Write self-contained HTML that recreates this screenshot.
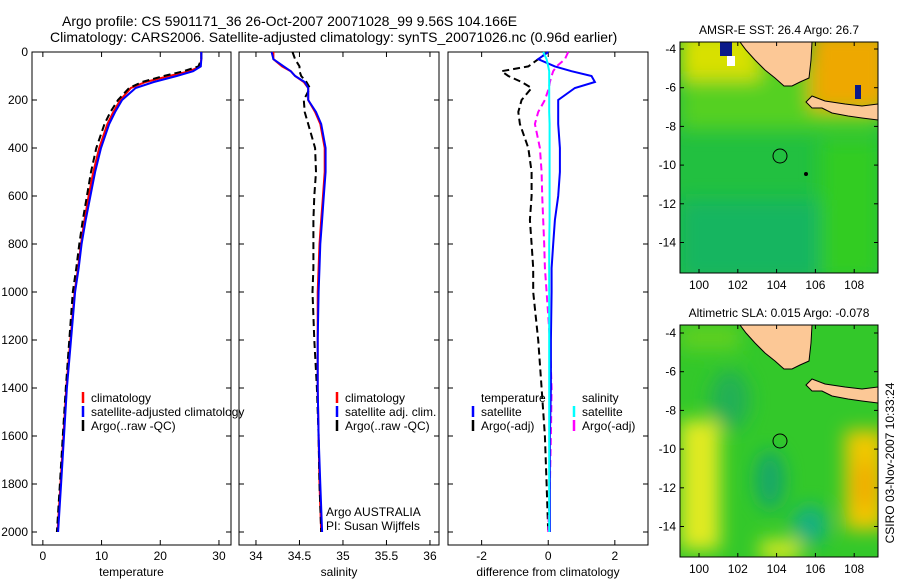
<!DOCTYPE html>
<html><head><meta charset="utf-8"><style>
body{margin:0;background:#fff;width:900px;height:580px;overflow:hidden}
svg text{font-family:"Liberation Sans",sans-serif;fill:#000}
</style></head><body>
<svg id="fig" width="900" height="580" viewBox="0 0 900 580" xmlns="http://www.w3.org/2000/svg">
<defs>
<filter id="blur" x="-50%" y="-50%" width="200%" height="200%"><feGaussianBlur stdDeviation="9"/></filter>
<clipPath id="clipTop"><rect x="680" y="42" width="198" height="231"/></clipPath>
<clipPath id="clipBot"><rect x="680" y="325" width="198" height="232"/></clipPath>
</defs>
<text x="62" y="26" font-size="14">Argo profile: CS 5901171_36 26-Oct-2007 20071028_99 9.56S 104.166E</text>
<text x="50" y="42" font-size="14">Climatology: CARS2006. Satellite-adjusted climatology: synTS_20071026.nc (0.96d earlier)</text>

<g clip-path="url(#clipTop)">
<rect x="680" y="42" width="198" height="231" fill="#22c040"/>
<g filter="url(#blur)">
<rect x="680" y="60" width="200" height="70" fill="#55d020"/>
<rect x="680" y="30" width="80" height="50" fill="#d8e000"/>
<rect x="810" y="30" width="80" height="80" fill="#eea800"/>
<rect x="680" y="200" width="200" height="80" fill="#15b560"/>
<rect x="820" y="140" width="60" height="140" fill="#30cc20"/>
</g>
<rect x="720" y="42" width="12" height="14" fill="#0a1a8a"/>
<rect x="727" y="56" width="8" height="10" fill="#ffffff"/>
<rect x="855" y="85" width="6" height="14" fill="#0a1a8a"/>
<polygon points="740,42 812,42 811,60 809,78 800,82 792,86 784,86 775,78 765,70 755,60 746,50" fill="#fcc896" stroke="#000" stroke-width="1"/>
<polygon points="806,102 812,96 825,101 845,104 862,106 878,104 878,120 862,118 848,116 832,113 822,108 812,108" fill="#fcc896" stroke="#000" stroke-width="1"/>
<circle cx="780" cy="156" r="7" fill="none" stroke="#000"/>
<circle cx="806" cy="174" r="2" fill="#000"/>
</g>
<rect x="680" y="42" width="198" height="231" fill="none" stroke="#000"/>
<text x="779" y="34" font-size="12" text-anchor="middle">AMSR-E SST: 26.4 Argo: 26.7</text>

<g clip-path="url(#clipBot)">
<rect x="680" y="325" width="198" height="232" fill="#33c82a"/>
<g filter="url(#blur)">
<rect x="680" y="420" width="40" height="130" fill="#e0ea20"/>
<rect x="845" y="430" width="40" height="100" fill="#f0c800"/>
<ellipse cx="865" cy="485" rx="10" ry="25" fill="#f0a800"/>
<ellipse cx="770" cy="480" rx="15" ry="30" fill="#18a868"/>
<ellipse cx="810" cy="525" rx="18" ry="20" fill="#15b080"/>
<ellipse cx="730" cy="400" rx="20" ry="30" fill="#20b055"/>
<rect x="760" y="540" width="40" height="20" fill="#d8e820"/>
<rect x="680" y="325" width="60" height="25" fill="#60d020"/>
</g>
<polygon points="740,325 812,325 811,343 809,361 800,365 792,369 784,369 775,361 765,353 755,343 746,333" fill="#fcc896" stroke="#000" stroke-width="1"/>
<polygon points="806,385 812,379 825,384 845,387 862,389 878,387 878,403 862,401 848,399 832,396 822,391 812,391" fill="#fcc896" stroke="#000" stroke-width="1"/>
<circle cx="780" cy="441" r="7" fill="none" stroke="#000"/>
</g>
<rect x="680" y="325" width="198" height="232" fill="none" stroke="#000"/>
<text x="779" y="317" font-size="12" text-anchor="middle">Altimetric SLA: 0.015 Argo: -0.078</text>
<text transform="translate(894,463) rotate(-90)" font-size="12" text-anchor="middle">CSIRO 03-Nov-2007 10:33:24</text>
<g id="mapticks"></g>
<g id="plots"></g>
</svg>
<script>
const depths=[0,30,60,80,100,125,150,200,250,300,400,500,600,700,800,900,1000,1200,1400,1600,1800,2000];
const tempClim=[27,27,26.8,25,21.5,17.5,15,13.2,12,11,9.6,8.6,7.8,7.1,6.5,6.0,5.4,4.7,4.0,3.5,3.0,2.5];
const tempSat=[27,27,26.9,25.6,22.8,18.9,15.8,13.5,12.3,11.3,9.9,8.9,8.1,7.3,6.6,6.1,5.5,4.8,4.1,3.6,3.1,2.6];
const tempArgo=[27,27,26.5,24,20.6,16.9,14.7,12.8,11.5,10.5,9.1,8.2,7.5,6.8,6.2,5.7,5.1,4.5,3.9,3.4,2.9,2.4];
const salClim=[34.2,34.2,34.3,34.4,34.45,34.55,34.6,34.6,34.68,34.74,34.79,34.79,34.77,34.75,34.73,34.72,34.71,34.71,34.71,34.72,34.73,34.75];
const salSat=[34.18,34.2,34.32,34.4,34.45,34.56,34.6,34.6,34.69,34.75,34.8,34.8,34.78,34.76,34.74,34.73,34.72,34.71,34.71,34.72,34.74,34.76];
const salArgo=[34.42,34.45,34.5,34.5,34.52,34.58,34.62,34.55,34.56,34.6,34.68,34.69,34.67,34.66,34.66,34.66,34.65,34.67,34.7,34.72,34.73,34.75];
const dTempSat=[0,-0.3,0.2,0.7,1.3,1.4,0.8,0.3,0.3,0.3,0.35,0.35,0.3,0.2,0.15,0.1,0.1,0.08,0.08,0.05,0.05,0.05];
const dTempArgo=[0,-0.3,-0.6,-1.4,-1.2,-0.8,-0.5,-0.8,-0.9,-0.85,-0.6,-0.5,-0.5,-0.55,-0.5,-0.45,-0.45,-0.3,-0.2,-0.1,-0.05,0];
const dSalSat=[-0.15,-0.05,0,0.03,0.03,0.03,0.03,0.03,0.03,0.04,0.04,0.04,0.04,0.04,0.03,0.03,0.03,0.03,0.03,0.03,0.03,0.03];
const dSalArgo=[0.6,0.5,0.25,0.15,0.1,0.05,0.02,-0.1,-0.3,-0.4,-0.25,-0.2,-0.18,-0.15,-0.12,-0.1,-0.05,0.05,0.1,0.08,0.05,0];
const tempTicks=[0,10,20,30];
const salTicks=[34,34.5,35,35.5,36];
const diffTicks=[-2,0,2];
const depthTicks=[0,200,400,600,800,1000,1200,1400,1600,1800,2000];
const lonTicks=[100,102,104,106,108];
const latTicks=[-4,-6,-8,-10,-12,-14];

const NS='http://www.w3.org/2000/svg';
const plots=document.getElementById('plots');
function mk(tag,attrs,parent){const e=document.createElementNS(NS,tag);for(const k in attrs)e.setAttribute(k,attrs[k]);(parent||plots).appendChild(e);return e;}
const yD=d=>52+d*0.24;
const panels=[
 {x0:32,x1:231,v0:-1.85,k:5.87,ticks:tempTicks,label:'temperature',name:'temperature-panel'},
 {x0:239,x1:439,v0:33.805,k:87,ticks:salTicks,label:'salinity',name:'salinity-panel'},
 {x0:448,x1:648,v0:-3.01,k:33.3,ticks:diffTicks,label:'difference from climatology',name:'difference-panel'}
];
const yTop=52,yBot=545;
panels.forEach((p,i)=>{
 const g=mk('g',{});
 
 
 p.xv=v=>p.x0+(v-p.v0)*p.k;
 mk('rect',{x:p.x0,y:yTop,width:p.x1-p.x0,height:yBot-yTop,fill:'none',stroke:'#000'},g);
 p.ticks.forEach(t=>{const x=p.xv(t);
  mk('line',{x1:x,x2:x,y1:yBot,y2:yBot-5,stroke:'#000'},g);
  mk('line',{x1:x,x2:x,y1:yTop,y2:yTop+5,stroke:'#000'},g);
  const tx=mk('text',{x:x,y:yBot+15,'font-size':12,'text-anchor':'middle'},g);tx.textContent=t;
  
  
 });
 depthTicks.forEach(d=>{const y=yD(d);
  mk('line',{x1:p.x0,x2:p.x0+5,y1:y,y2:y,stroke:'#000'},g);
  mk('line',{x1:p.x1,x2:p.x1-5,y1:y,y2:y,stroke:'#000'},g);
  if(i==0){const tx=mk('text',{x:28,y:y+4,'font-size':12,'text-anchor':'end'},g);tx.textContent=d;
   
   }
 });
 const lb=mk('text',{x:(p.x0+p.x1)/2,y:576,'font-size':12,'text-anchor':'middle'},g);lb.textContent=p.label;
 
 
});
function line(p,vals,color,dash,name){
 const pts=vals.map((v,j)=>p.xv(v).toFixed(1)+','+yD(depths[j]).toFixed(1)).join(' ');
 const e=mk('polyline',{points:pts,fill:'none',stroke:color,'stroke-width':2,'stroke-dasharray':dash||'none'});
 
 
}
const [P1,P2,P3]=panels;
line(P1,tempClim,'#f00',null,'temp-climatology-line');
line(P1,tempArgo,'#000','7,4','temp-argo-line');
line(P1,tempSat,'#00f',null,'temp-satellite-line');
line(P2,salClim,'#f00',null,'sal-climatology-line');
line(P2,salArgo,'#000','7,4','sal-argo-line');
line(P2,salSat,'#00f',null,'sal-satellite-line');
line(P3,dTempArgo,'#000','7,4','dtemp-argo-line');
line(P3,dSalArgo,'#f0f','7,4','dsal-argo-line');
line(P3,dTempSat,'#00f',null,'dtemp-satellite-line');
line(P3,dSalSat,'#0ff',null,'dsal-satellite-line');
function leg(x,y,color,text,name){
 if(color)mk('line',{x1:x,x2:x,y1:y-10,y2:y+1,stroke:color,'stroke-width':2.5});
 const t=mk('text',{x:x+8,y:y,'font-size':12});t.textContent=text;
 
 
}
leg(83,402,'#f00','climatology','legend-climatology');
leg(83,416,'#00f','satellite-adjusted climatology','legend-satellite-adjusted');
leg(83,430,'#000','Argo(..raw -QC)','legend-argo');
leg(337,402,'#f00','climatology','legend-sal-climatology');
leg(337,416,'#00f','satellite adj. clim.','legend-sal-satellite');
leg(337,430,'#000','Argo(..raw -QC)','legend-sal-argo');
leg(473,402,null,'temperature','legend-temperature-header');
leg(473,416,'#00f','satellite','legend-dtemp-satellite');
leg(473,430,'#000','Argo(-adj)','legend-dtemp-argo');
leg(574,402,null,'salinity','legend-salinity-header');
leg(574,416,'#0ff','satellite','legend-dsal-satellite');
leg(574,430,'#f0f','Argo(-adj)','legend-dsal-argo');
leg(318,516,null,'Argo AUSTRALIA','argo-australia-note');
leg(318,530,null,'PI: Susan Wijffels','pi-note');
const mt=document.getElementById('mapticks');
[{y0:49,yb:273,yt:42},{y0:333,yb:557,yt:325}].forEach((m,mi)=>{
 lonTicks.forEach(l=>{const x=699+(l-100)*19.4;
  mk('line',{x1:x,x2:x,y1:m.yb,y2:m.yb-4,stroke:'#000'},mt);
  mk('line',{x1:x,x2:x,y1:m.yt,y2:m.yt+4,stroke:'#000'},mt);
  const t=mk('text',{x:x,y:m.yb+16,'font-size':12,'text-anchor':'middle'},mt);t.textContent=l;
  
  
 });
 latTicks.forEach(l=>{const y=m.y0+(-4-l)*19.35;
  mk('line',{x1:680,x2:684,y1:y,y2:y,stroke:'#000'},mt);
  mk('line',{x1:878,x2:874,y1:y,y2:y,stroke:'#000'},mt);
  const t=mk('text',{x:676,y:y+4,'font-size':12,'text-anchor':'end'},mt);t.textContent=l;
  
  
 });
});
</script>
</body></html>
